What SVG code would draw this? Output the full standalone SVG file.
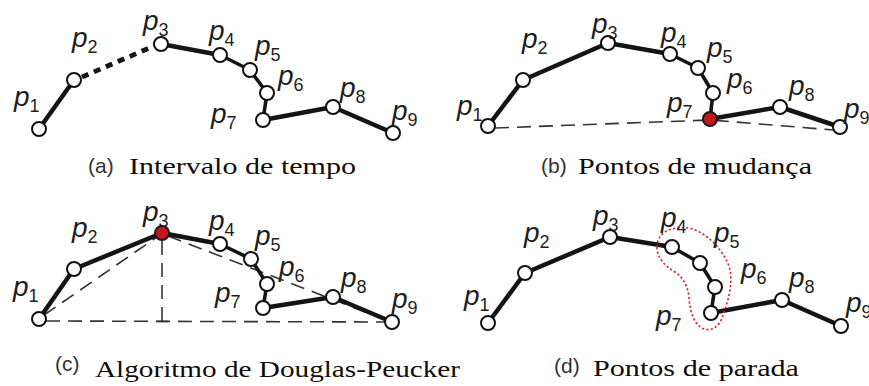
<svg xmlns="http://www.w3.org/2000/svg" width="869" height="386" viewBox="0 0 869 386">
  <style>
    .bg { fill: #ffffff; }
    .seg { fill: none; stroke: #141414; stroke-width: 4.5; stroke-linecap: round; stroke-linejoin: round; }
    .seg.thin { stroke-width: 3.6; }
    .gap { fill: none; stroke: #141414; stroke-width: 4.8; stroke-dasharray: 7 6; }
    .ref { fill: none; stroke: #333333; stroke-width: 1.6; stroke-dasharray: 14 8; }
    .stop { fill: none; stroke: #d4242c; stroke-width: 1.6; stroke-dasharray: 2.2 2.2; }
    .pt { fill: #ffffff; stroke: #111111; stroke-width: 2; }
    .pt.key { fill: #c8161e; stroke: #1a1a1a; }
    .lbl { font-family: "Liberation Sans", Arial, sans-serif; font-size: 28px; font-style: italic; fill: #1e1e1e; }
    .lbl .n { font-size: 18px; font-style: normal; }
    .tag { font-family: "Liberation Sans", Arial, sans-serif; font-size: 21px; fill: #333333; }
    .cap { font-family: "Liberation Serif", "Times New Roman", serif; font-size: 24px; fill: #120c06; }
  </style>
  <rect class="bg" x="0" y="0" width="869" height="386"/>

  <!-- connectors: reference lines first, then trajectory segments -->
  <g id="connectors">
    <!-- (a) time interval -->
    <polyline class="seg" points="39,129 74,80"/>
    <line class="gap" x1="82" y1="77" x2="154" y2="46"/>
    <polyline class="seg" points="161,44 220,55"/>
    <polyline class="seg thin" points="220,55 250,70 267,93 263,120"/>
    <polyline class="seg" points="263,120 333,107 393,133"/>

    <!-- (b) change points -->
    <polyline class="ref" points="495,128 710,120 834,130"/>
    <polyline class="seg" points="488,126 523,80 608,43 670,54"/>
    <polyline class="seg thin" points="670,54 698,68 713,93 710,119"/>
    <polyline class="seg" points="710,119 780,107 840,127"/>

    <!-- (c) Douglas-Peucker -->
    <line class="ref" x1="44" y1="315" x2="157" y2="237"/>
    <line class="ref" x1="168" y1="236" x2="386" y2="320"/>
    <line class="ref" x1="162" y1="241" x2="162" y2="321"/>
    <line class="ref" x1="46" y1="321" x2="386" y2="322"/>
    <line x1="156" y1="321.5" x2="168" y2="321.5" stroke="#333333" stroke-width="1.6"/>
    <polyline class="seg" points="39,319 74,269 162,233 220,244"/>
    <polyline class="seg thin" points="220,244 251,259 267,284 263,308"/>
    <polyline class="seg" points="263,308 333,297 392,322"/>

    <!-- (d) stop points -->
    <polyline class="seg" points="488,323 525,273 610,237 672,247"/>
    <polyline class="seg thin" points="672,247 700,263 715,287 711,313"/>
    <polyline class="seg" points="711,313 782,300 841,326"/>
    <path class="stop" d="M657,247 C657,232 672,226 688,228 C705,231 722,248 729,266 C734,282 728,302 722,318 C718,328 711,331 704,329 C694,325 690,312 689,298 C688,287 684,278 675,272 C664,265 657,258 657,247 Z"/>
  </g>

  <!-- (a) nodes -->
  <g id="a-p1"><circle class="pt" cx="39" cy="129" r="7"/><text class="lbl" x="14" y="106">p<tspan class="n" dy="6">1</tspan></text></g>
  <g id="a-p2"><circle class="pt" cx="74" cy="80" r="7"/><text class="lbl" x="72" y="47">p<tspan class="n" dy="6">2</tspan></text></g>
  <g id="a-p3"><circle class="pt" cx="161" cy="44" r="7"/><text class="lbl" x="143" y="30">p<tspan class="n" dy="6">3</tspan></text></g>
  <g id="a-p4"><circle class="pt" cx="220" cy="55" r="7"/><text class="lbl" x="209" y="40">p<tspan class="n" dy="6">4</tspan></text></g>
  <g id="a-p5"><circle class="pt" cx="250" cy="70" r="7"/><text class="lbl" x="255" y="55">p<tspan class="n" dy="6">5</tspan></text></g>
  <g id="a-p6"><circle class="pt" cx="267" cy="93" r="7"/><text class="lbl" x="278" y="85">p<tspan class="n" dy="6">6</tspan></text></g>
  <g id="a-p7"><circle class="pt" cx="263" cy="120" r="7"/><text class="lbl" x="211" y="123">p<tspan class="n" dy="6">7</tspan></text></g>
  <g id="a-p8"><circle class="pt" cx="333" cy="107" r="7"/><text class="lbl" x="340" y="97">p<tspan class="n" dy="6">8</tspan></text></g>
  <g id="a-p9"><circle class="pt" cx="393" cy="133" r="7"/><text class="lbl" x="392" y="120">p<tspan class="n" dy="6">9</tspan></text></g>
  <g id="a-caption"><text class="tag" x="88" y="173">(a)</text><text class="cap" x="129" y="174" textLength="227" lengthAdjust="spacingAndGlyphs">Intervalo de tempo</text></g>

  <!-- (b) nodes -->
  <g id="b-p1"><circle class="pt" cx="488" cy="126" r="7"/><text class="lbl" x="457" y="115">p<tspan class="n" dy="6">1</tspan></text></g>
  <g id="b-p2"><circle class="pt" cx="523" cy="80" r="7"/><text class="lbl" x="522" y="48">p<tspan class="n" dy="6">2</tspan></text></g>
  <g id="b-p3"><circle class="pt" cx="608" cy="43" r="7"/><text class="lbl" x="592" y="33">p<tspan class="n" dy="6">3</tspan></text></g>
  <g id="b-p4"><circle class="pt" cx="670" cy="54" r="7"/><text class="lbl" x="661" y="42">p<tspan class="n" dy="6">4</tspan></text></g>
  <g id="b-p5"><circle class="pt" cx="698" cy="68" r="7"/><text class="lbl" x="707" y="57">p<tspan class="n" dy="6">5</tspan></text></g>
  <g id="b-p6"><circle class="pt" cx="713" cy="93" r="7"/><text class="lbl" x="727" y="88">p<tspan class="n" dy="6">6</tspan></text></g>
  <g id="b-p7"><circle class="pt key" cx="710" cy="119" r="7"/><text class="lbl" x="667" y="112">p<tspan class="n" dy="6">7</tspan></text></g>
  <g id="b-p8"><circle class="pt" cx="780" cy="107" r="7"/><text class="lbl" x="789" y="95">p<tspan class="n" dy="6">8</tspan></text></g>
  <g id="b-p9"><circle class="pt" cx="840" cy="127" r="7"/><text class="lbl" x="844" y="118">p<tspan class="n" dy="6">9</tspan></text></g>
  <g id="b-caption"><text class="tag" x="541" y="173">(b)</text><text class="cap" x="578" y="174" textLength="234" lengthAdjust="spacingAndGlyphs">Pontos de mudança</text></g>

  <!-- (c) nodes -->
  <g id="c-p1"><circle class="pt" cx="39" cy="319" r="7"/><text class="lbl" x="13" y="296">p<tspan class="n" dy="6">1</tspan></text></g>
  <g id="c-p2"><circle class="pt" cx="74" cy="269" r="7"/><text class="lbl" x="72" y="237">p<tspan class="n" dy="6">2</tspan></text></g>
  <g id="c-p3"><circle class="pt key" cx="162" cy="233" r="7"/><text class="lbl" x="143" y="221">p<tspan class="n" dy="6">3</tspan></text></g>
  <g id="c-p4"><circle class="pt" cx="220" cy="244" r="7"/><text class="lbl" x="209" y="230">p<tspan class="n" dy="6">4</tspan></text></g>
  <g id="c-p5"><circle class="pt" cx="251" cy="259" r="7"/><text class="lbl" x="255" y="245">p<tspan class="n" dy="6">5</tspan></text></g>
  <g id="c-p6"><circle class="pt" cx="267" cy="284" r="7"/><text class="lbl" x="279" y="276">p<tspan class="n" dy="6">6</tspan></text></g>
  <g id="c-p7"><circle class="pt" cx="263" cy="308" r="7"/><text class="lbl" x="215" y="302">p<tspan class="n" dy="6">7</tspan></text></g>
  <g id="c-p8"><circle class="pt" cx="333" cy="297" r="7"/><text class="lbl" x="341" y="287">p<tspan class="n" dy="6">8</tspan></text></g>
  <g id="c-p9"><circle class="pt" cx="392" cy="322" r="7"/><text class="lbl" x="392" y="308">p<tspan class="n" dy="6">9</tspan></text></g>
  <g id="c-caption"><text class="tag" x="55" y="371">(c)</text><text class="cap" x="95" y="377" textLength="365" lengthAdjust="spacingAndGlyphs">Algoritmo de Douglas-Peucker</text></g>

  <!-- (d) nodes -->
  <g id="d-p1"><circle class="pt" cx="488" cy="323" r="7"/><text class="lbl" x="464" y="305">p<tspan class="n" dy="6">1</tspan></text></g>
  <g id="d-p2"><circle class="pt" cx="525" cy="273" r="7"/><text class="lbl" x="524" y="242">p<tspan class="n" dy="6">2</tspan></text></g>
  <g id="d-p3"><circle class="pt" cx="610" cy="237" r="7"/><text class="lbl" x="593" y="225">p<tspan class="n" dy="6">3</tspan></text></g>
  <g id="d-p4"><circle class="pt" cx="672" cy="247" r="7"/><text class="lbl" x="661" y="227">p<tspan class="n" dy="6">4</tspan></text></g>
  <g id="d-p5"><circle class="pt" cx="700" cy="263" r="7"/><text class="lbl" x="714" y="242">p<tspan class="n" dy="6">5</tspan></text></g>
  <g id="d-p6"><circle class="pt" cx="715" cy="287" r="7"/><text class="lbl" x="741" y="278">p<tspan class="n" dy="6">6</tspan></text></g>
  <g id="d-p7"><circle class="pt" cx="711" cy="313" r="7"/><text class="lbl" x="656" y="325">p<tspan class="n" dy="6">7</tspan></text></g>
  <g id="d-p8"><circle class="pt" cx="782" cy="300" r="7"/><text class="lbl" x="789" y="287">p<tspan class="n" dy="6">8</tspan></text></g>
  <g id="d-p9"><circle class="pt" cx="841" cy="326" r="7"/><text class="lbl" x="846" y="312">p<tspan class="n" dy="6">9</tspan></text></g>
  <g id="d-caption"><text class="tag" x="554" y="373">(d)</text><text class="cap" x="593" y="376" textLength="206" lengthAdjust="spacingAndGlyphs">Pontos de parada</text></g>
</svg>
